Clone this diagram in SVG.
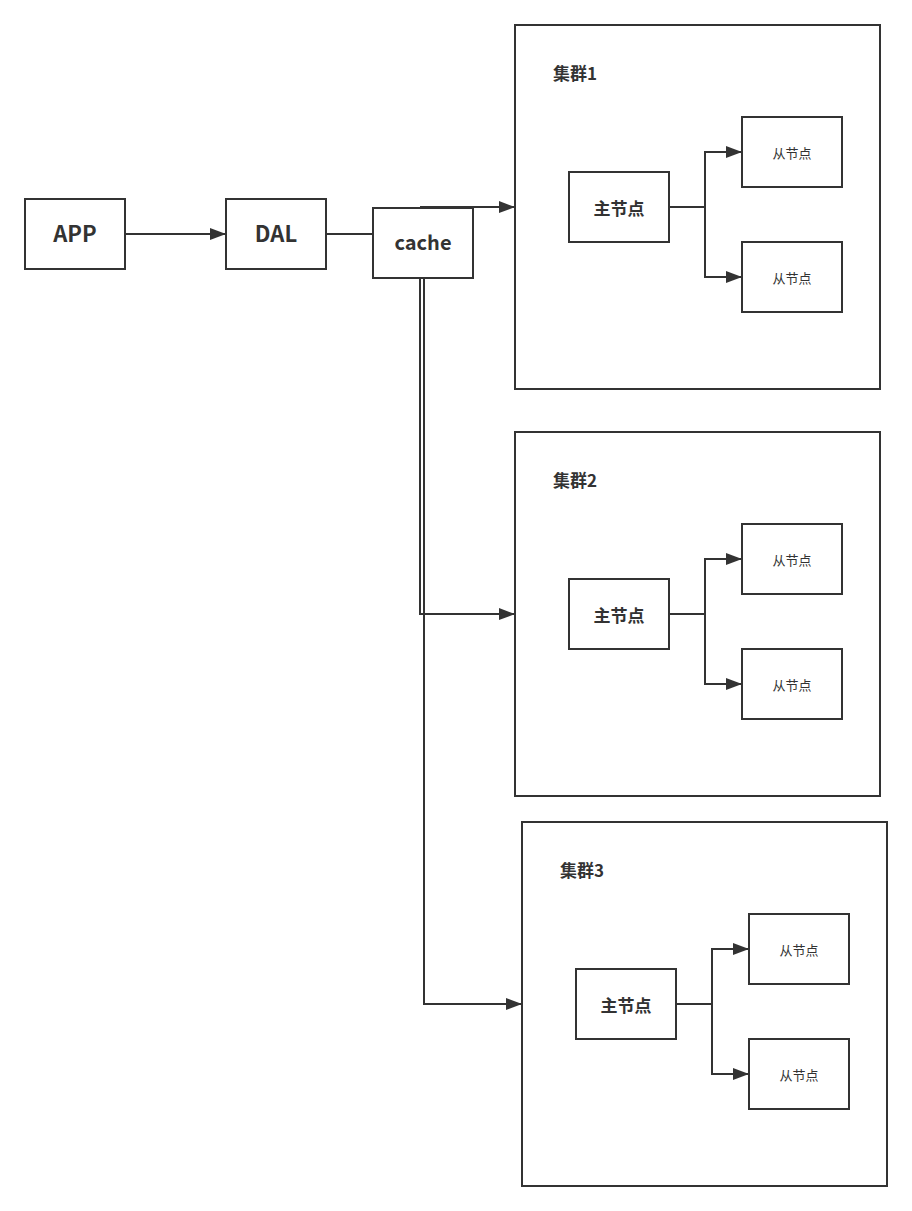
<svg xmlns="http://www.w3.org/2000/svg" width="912" height="1211" viewBox="0 0 912 1211">
<defs>
<marker id="arr" viewBox="0 0 16 12" refX="16" refY="6" markerWidth="16" markerHeight="12" markerUnits="userSpaceOnUse" orient="auto">
<path d="M0,0 L16,6 L0,12 Z" fill="#333"/>
</marker>
<style>
.box{fill:#fff;stroke:#333;stroke-width:2}
.cl{fill:none;stroke:#333;stroke-width:2}
.ln{fill:none;stroke:#333;stroke-width:2}
.t{font-family:"Noto Sans CJK SC","Noto Sans",sans-serif;fill:#333;text-anchor:middle;dominant-baseline:central}
.big{font-size:22px;font-weight:bold}
.mid{font-size:17px;font-weight:bold}
.ttl{font-size:17px;font-weight:bold;text-anchor:start}
.sm{font-size:13px}
</style>
</defs>
<rect width="912" height="1211" fill="#fff"/>
<g id="connectors">
<path class="ln" d="M125,234 H226" marker-end="url(#arr)"/>
<path class="ln" d="M326,234 H373"/>
<path class="ln" d="M420,207 H515" marker-end="url(#arr)"/>
<path class="ln" d="M420,278 V614 H515" marker-end="url(#arr)"/>
<path class="ln" d="M424,278 V1004 H522" marker-end="url(#arr)"/>
<path class="ln" d="M669,207 H705 V152 H742" marker-end="url(#arr)"/>
<path class="ln" d="M705,207 V277 H742" marker-end="url(#arr)"/>
<path class="ln" d="M669,614 H705 V559 H742" marker-end="url(#arr)"/>
<path class="ln" d="M705,614 V684 H742" marker-end="url(#arr)"/>
<path class="ln" d="M676,1004 H712 V949 H749" marker-end="url(#arr)"/>
<path class="ln" d="M712,1004 V1074 H749" marker-end="url(#arr)"/>
</g>
<g id="app"><rect class="box" x="25" y="199" width="100" height="70"/><text class="t big" x="75" y="232">APP</text></g>
<g id="dal"><rect class="box" x="226" y="199" width="100" height="70"/><text class="t big" x="276" y="232">DAL</text></g>
<g id="cache"><rect class="box" x="373" y="208" width="100" height="70"/><text class="t big" x="423" y="241" style="font-size:20px">cache</text></g>

<g id="cluster1">
<rect class="cl" x="515" y="25" width="365" height="364"/>
<text class="t ttl" x="553" y="72">集群1</text>
</g>
<g id="master1"><rect class="box" x="569" y="172" width="100" height="70"/><text class="t mid" x="619" y="207">主节点</text></g>
<g id="slave1a"><rect class="box" x="742" y="117" width="100" height="70"/><text class="t sm" x="792" y="152">从节点</text></g>
<g id="slave1b"><rect class="box" x="742" y="242" width="100" height="70"/><text class="t sm" x="792" y="277">从节点</text></g>

<g id="cluster2">
<rect class="cl" x="515" y="432" width="365" height="364"/>
<text class="t ttl" x="553" y="479">集群2</text>
</g>
<g id="master2"><rect class="box" x="569" y="579" width="100" height="70"/><text class="t mid" x="619" y="614">主节点</text></g>
<g id="slave2a"><rect class="box" x="742" y="524" width="100" height="70"/><text class="t sm" x="792" y="559">从节点</text></g>
<g id="slave2b"><rect class="box" x="742" y="649" width="100" height="70"/><text class="t sm" x="792" y="684">从节点</text></g>

<g id="cluster3">
<rect class="cl" x="522" y="822" width="365" height="364"/>
<text class="t ttl" x="560" y="869">集群3</text>
</g>
<g id="master3"><rect class="box" x="576" y="969" width="100" height="70"/><text class="t mid" x="626" y="1004">主节点</text></g>
<g id="slave3a"><rect class="box" x="749" y="914" width="100" height="70"/><text class="t sm" x="799" y="949">从节点</text></g>
<g id="slave3b"><rect class="box" x="749" y="1039" width="100" height="70"/><text class="t sm" x="799" y="1074">从节点</text></g>
</svg>
